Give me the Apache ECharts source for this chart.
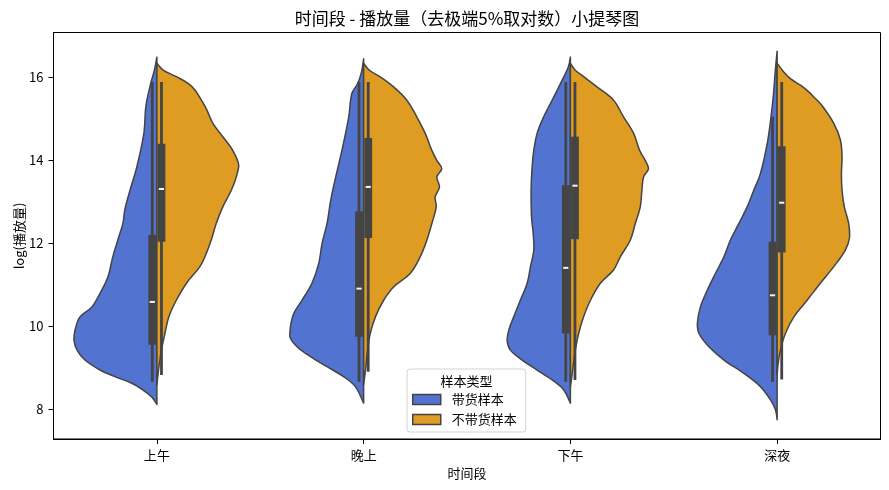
<!DOCTYPE html>
<html><head><meta charset="utf-8">
<script src="https://cdn.jsdelivr.net/npm/echarts@6/dist/echarts.min.js"></script>
<style>html,body{margin:0;padding:0;background:#fff}#c{width:889px;height:490px}</style>
</head><body><div id="c"></div>
<script>
const categories = ['上午', '晚上', '下午', '深夜'];
const hueNames = ['带货样本', '不带货样本'];
const yTicks = [8, 10, 12, 14, 16];

// Half-violin density outlines: [log value, half width as fraction of category band]
const densityDaihuo = [
  [[16.48,0],[16.16,.012],[15.84,.030],[15.30,.053],[14.64,.063],[13.83,.097],[13.27,.130],[12.80,.155],[12.48,.164],[12.15,.184],[11.67,.213],[11.18,.237],[10.74,.280],[10.46,.314],[10.22,.372],[9.90,.396],[9.66,.401],[9.42,.386],[9.18,.348],[8.94,.275],[8.78,.203],[8.62,.121],[8.46,.068],[8.30,.027],[8.11,0]],
  [[16.44,0],[16.12,.010],[15.84,.029],[15.60,.057],[15.04,.072],[14.23,.105],[13.59,.135],[13.03,.159],[12.47,.177],[11.99,.201],[11.51,.217],[11.03,.250],[10.62,.298],[10.30,.338],[9.98,.354],[9.74,.357],[9.50,.322],[9.26,.257],[9.02,.177],[8.78,.097],[8.54,.040],[8.14,0]],
  [[16.48,0],[16.24,.010],[15.84,.048],[15.44,.088],[15.04,.129],[14.64,.161],[14.23,.177],[13.83,.185],[13.27,.190],[12.63,.188],[12.23,.180],[11.83,.177],[11.43,.193],[11.03,.209],[10.62,.242],[10.22,.274],[9.90,.298],[9.66,.306],[9.42,.290],[9.18,.233],[8.94,.161],[8.70,.088],[8.46,.032],[8.14,0]],
  [[16.62,0],[16.08,.010],[15.68,.016],[15.28,.024],[14.48,.045],[13.67,.081],[13.27,.113],[12.87,.145],[12.47,.185],[12.07,.226],[11.67,.257],[11.27,.298],[10.86,.338],[10.46,.371],[10.06,.386],[9.82,.378],[9.50,.330],[9.18,.257],[8.86,.161],[8.54,.081],[8.22,.032],[7.98,.008],[7.74,0]]
];
const densityBuDaihuo = [
  [[16.33,0],[16.16,.032],[16.00,.097],[15.84,.153],[15.68,.185],[15.52,.206],[15.36,.225],[15.20,.242],[14.88,.271],[14.56,.319],[14.23,.367],[13.87,.396],[13.59,.384],[13.27,.360],[12.87,.319],[12.47,.287],[12.07,.263],[11.75,.239],[11.43,.208],[11.03,.143],[10.62,.094],[10.22,.058],[9.82,.039],[9.42,.022],[9.02,.010],[8.58,0]],
  [[16.33,0],[16.16,.028],[16.00,.080],[15.76,.145],[15.44,.209],[15.04,.257],[14.64,.298],[14.23,.330],[13.99,.354],[13.79,.378],[13.59,.354],[13.35,.367],[13.11,.346],[12.87,.351],[12.47,.330],[12.07,.306],[11.67,.274],[11.27,.226],[10.94,.145],[10.62,.097],[10.22,.057],[9.82,.032],[9.42,.019],[9.02,.011],[8.58,0]],
  [[16.33,0],[16.16,.024],[16.00,.066],[15.76,.129],[15.44,.209],[15.04,.257],[14.64,.306],[14.23,.335],[13.99,.362],[13.79,.378],[13.59,.354],[13.27,.346],[12.87,.338],[12.47,.314],[12.07,.290],[11.67,.242],[11.35,.209],[11.03,.145],[10.62,.097],[10.22,.064],[9.82,.040],[9.42,.024],[9.02,.013],[8.51,0]],
  [[16.33,0],[16.12,.032],[15.96,.064],[15.80,.113],[15.64,.153],[15.48,.185],[15.31,.217],[14.88,.274],[14.48,.306],[14.08,.314],[13.67,.311],[13.27,.314],[12.87,.325],[12.47,.346],[12.15,.351],[11.83,.330],[11.43,.274],[11.03,.209],[10.62,.145],[10.22,.081],[9.82,.040],[9.42,.016],[9.10,.005],[8.82,0]]
];
// Inner box stats: [whisker low, Q1, median, Q3, whisker high]
const boxDaihuo = [
  [8.66, 9.55, 10.58, 12.19, 15.88],
  [8.66, 9.74, 10.90, 12.76, 15.88],
  [8.66, 9.82, 11.40, 13.39, 15.88],
  [8.66, 9.78, 10.74, 12.03, 15.04]
];
const boxBuDaihuo = [
  [8.82, 12.03, 13.30, 14.39, 15.88],
  [8.90, 12.12, 13.35, 14.53, 15.88],
  [8.70, 12.09, 13.38, 14.56, 15.88],
  [8.71, 11.77, 12.97, 14.33, 15.88]
];

const colors = ['#5273cf', '#df9c22'];
const lineColor = '#444444';
const densities = [densityDaihuo, densityBuDaihuo];
const boxes = [boxDaihuo, boxBuDaihuo];
const FONT = "'Noto Sans CJK SC', 'DejaVu Sans', sans-serif";

function makeRender(side) {
  return function (params, api) {
    const ci = params.dataIndex;
    const bw = api.size([1, 0])[0];
    const k = bw / 207;
    const c = api.coord([ci, 10])[0];
    const dir = side === 0 ? -1 : 1;
    const pts = densities[side][ci].map(function (d) {
      return [c + dir * d[1] * bw, api.coord([ci, d[0]])[1]];
    });
    const b = boxes[side][ci];
    const yLo = api.coord([ci, b[0]])[1], yQ1 = api.coord([ci, b[1]])[1],
          yMed = api.coord([ci, b[2]])[1], yQ3 = api.coord([ci, b[3]])[1],
          yHi = api.coord([ci, b[4]])[1];
    const gap = 0.7 * k, boxW = 7.8 * k, whW = 2.8 * k;
    const boxX = side === 0 ? c - gap - boxW : c + gap;
    const whX = boxX + boxW / 2 - whW / 2;
    return {
      type: 'group',
      children: [
        { type: 'polygon', shape: { points: pts, smooth: 0.35, smoothConstraint: [pts[0].slice(), pts[0].slice()] },
          style: { fill: colors[side], stroke: lineColor, lineWidth: 1.5, lineJoin: 'round' } },
        { type: 'rect', shape: { x: whX, y: yHi, width: whW, height: yLo - yHi }, style: { fill: lineColor } },
        { type: 'rect', shape: { x: boxX, y: yQ3, width: boxW, height: yQ1 - yQ3 }, style: { fill: lineColor } },
        { type: 'rect', shape: { x: boxX + 1.3 * k, y: yMed - 1, width: boxW - 2.6 * k, height: 2 }, style: { fill: '#f2f2f2' } }
      ]
    };
  };
}

const chart = echarts.init(document.getElementById('c'), null, { renderer: 'canvas' });
chart.setOption({
  animation: false,
  backgroundColor: '#ffffff',
  textStyle: { fontFamily: FONT },
  grid: { left: 53.5, right: 8.5, top: 32.5, bottom: 51, show: true, borderColor: '#000', borderWidth: 1, backgroundColor: 'transparent' },
  xAxis: {
    type: 'category', data: categories, name: '时间段', nameLocation: 'middle', nameGap: 26,
    nameTextStyle: { color: '#000', fontSize: 13, fontFamily: FONT },
    axisLine: { show: true, lineStyle: { color: '#000', width: 1 } },
    axisTick: { show: true, alignWithLabel: true, length: 5, lineStyle: { color: '#000' } },
    axisLabel: { color: '#000', fontSize: 13, margin: 10, fontFamily: FONT },
    splitLine: { show: false }
  },
  yAxis: {
    type: 'value', min: 7.278, max: 17.07,
    axisLine: { show: true, lineStyle: { color: '#000', width: 1 } },
    axisTick: { show: true, length: 5, lineStyle: { color: '#000' }, customValues: yTicks },
    axisLabel: { color: '#000', fontSize: 13, margin: 10, fontFamily: FONT, customValues: yTicks },
    splitLine: { show: false }
  },
  legend: {
    left: 407, top: 369, orient: 'vertical', icon: 'rect',
    itemWidth: 28, itemHeight: 10, itemGap: 7,
    padding: [24, 9, 6, 5],
    backgroundColor: 'rgba(255,255,255,0.85)', borderColor: '#d3d3d3', borderWidth: 1, borderRadius: 3,
    textStyle: { color: '#000', fontSize: 13, fontFamily: FONT, padding: [0, 0, 0, 6] },
    data: hueNames.map(function (n, i) {
      return { name: n, itemStyle: { color: colors[i], borderColor: lineColor, borderWidth: 1.5 } };
    }),
    selectedMode: false
  },
  graphic: [
    { type: 'text', x: 467, y: 18.5, z: 100,
      style: { text: '时间段 - 播放量（去极端5%取对数）小提琴图', fill: '#000', font: "17px " + FONT, textAlign: 'center', textVerticalAlign: 'middle' } },
    { type: 'text', x: 19, y: 236, z: 100, rotation: Math.PI / 2,
      style: { text: 'log(播放量)', fill: '#000', font: "13px " + FONT, textAlign: 'center', textVerticalAlign: 'middle' } },
    { type: 'text', x: 466.5, y: 381, z: 100,
      style: { text: '样本类型', fill: '#000', font: "13px " + FONT, textAlign: 'center', textVerticalAlign: 'middle' } }
  ],
  series: hueNames.map(function (n, side) {
    return {
      type: 'custom', name: n, clip: false,
      itemStyle: { color: colors[side], borderColor: lineColor },
      encode: { x: 0, y: 1 },
      data: categories.map(function (_, i) { return [i, 10]; }),
      renderItem: makeRender(side)
    };
  })
});
</script></body></html>
